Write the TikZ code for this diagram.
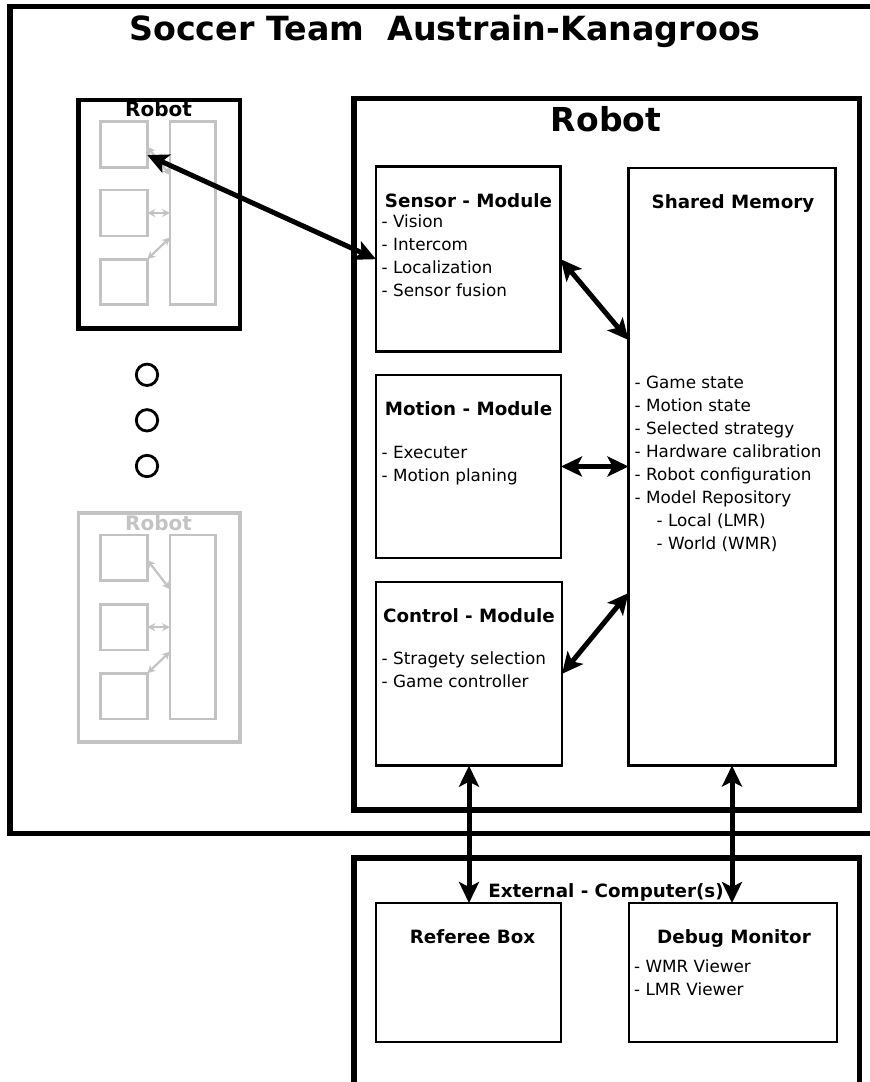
\documentclass[tikz,border=0pt]{standalone}
\usepackage{fontspec}
\setmainfont{DejaVu Sans}
\usetikzlibrary{arrows.meta,calc}
\definecolor{rgrey}{RGB}{195,195,195}
\begin{document}
\begin{tikzpicture}[x=1pt,y=-1pt,
 modbox/.style={draw,line width=2.7pt,inner sep=0pt,outer sep=0pt},
 frame/.style={draw,line width=5.3pt,inner sep=0pt,outer sep=0pt},
 head/.style={font=\fontsize{18.3}{22}\selectfont\bfseries,inner sep=0pt,anchor=base},
 body/.style={font=\fontsize{16.8}{20}\selectfont,inner sep=0pt,anchor=base west},
 bigarrow/.style={line width=5pt,{Stealth[length=21pt,width=20pt,inset=5pt]}-{Stealth[length=21pt,width=20pt,inset=5pt]}},
 garrow/.style={line width=2.2pt,draw=rgrey,{Stealth[length=8pt,width=8pt]}-{Stealth[length=8pt,width=8pt]}},
 gbox/.style={draw=rgrey,line width=2.5pt,inner sep=0pt,outer sep=0pt},
 dot/.style={circle,draw,line width=2.8pt,minimum size=21.4pt,inner sep=0pt}
]
\useasboundingbox (0,0) rectangle (870,1082);
\clip (0,0) rectangle (870,1082);

% team frame
\draw[line width=5.3pt] (880,6.7) -- (10,6.7) -- (10,833.8) -- (880,833.8);
\node[font=\fontsize{33.3}{40}\selectfont\bfseries,inner sep=0pt,anchor=base] (title) at (445,40) {Soccer Team~ Austrain-Kanagroos};

% robot frame
\node[frame,minimum width=505.3pt,minimum height=711.3pt] (robot) at (606.65,454.35) {};
\node[font=\fontsize{33}{40}\selectfont\bfseries,inner sep=0pt,anchor=base] (robotlbl) at (606,131) {Robot};

% modules
\node[modbox,minimum width=184.7pt,minimum height=185pt] (sensor) at (468.35,259.2) {};
\node[modbox,minimum width=185pt,minimum height=183pt] (motion) at (468.5,466.5) {};
\node[modbox,minimum width=186pt,minimum height=183.7pt] (control) at (469,673.85) {};
\node[modbox,minimum width=207pt,minimum height=597.5pt] (sm) at (732,466.75) {};

\node[head] (sensorh) at (468.5,207.5) {Sensor - Module};
\node[body] (s1) at (381.5,227.3) {- Vision};
\node[body] (s2) at (381.5,250.5) {- Intercom};
\node[body] (s3) at (381.5,273.5) {- Localization};
\node[body] (s4) at (381.5,296.5) {- Sensor fusion};

\node[head] (motionh) at (468.5,415) {Motion - Module};
\node[body] (m1) at (381.5,458) {- Executer};
\node[body] (m2) at (381.5,481) {- Motion planing};

\node[head] (controlh) at (469,622) {Control - Module};
\node[body] (c1) at (381.5,664) {- Stragety selection};
\node[body] (c2) at (381.5,687) {- Game controller};

\node[head] (smh) at (733,208) {Shared Memory};
\node[body] (sm1) at (634.5,388) {- Game state};
\node[body] (sm2) at (634.5,411) {- Motion state};
\node[body] (sm3) at (634.5,434) {- Selected strategy};
\node[body] (sm4) at (634.5,457) {- Hardware calibration};
\node[body] (sm5) at (634.5,480) {- Robot configuration};
\node[body] (sm6) at (634.5,503) {- Model Repository};
\node[body] (sm7) at (656.5,526) {- Local (LMR)};
\node[body] (sm8) at (656.5,549) {- World (WMR)};

% external
\draw[line width=5.3pt] (354,1090) -- (354,858) -- (859.3,858) -- (859.3,1090);
\node[head] (exth) at (606,897.5) {External - Computer(s)};
\node[modbox,minimum width=185pt,minimum height=139pt] (referee) at (468.5,972.5) {};
\node[modbox,minimum width=208pt,minimum height=139pt] (debug) at (733,972.5) {};
\node[head] (refh) at (472.5,943.5) {Referee Box};
\node[head] (debugh) at (734,943.5) {Debug Monitor};
\node[body] (d1) at (634,972) {- WMR Viewer};
\node[body] (d2) at (634,995) {- LMR Viewer};

% small robot (top)
\node[draw,line width=4.2pt,inner sep=0pt,outer sep=0pt,minimum width=161.5pt,minimum height=228.5pt] (tr) at (159.25,214.25) {};
\node[font=\fontsize{20}{24}\selectfont\bfseries,inner sep=0pt,anchor=base] (trl) at (158.5,116.5) {Robot};
\node[gbox,minimum width=46.6pt,minimum height=45.6pt] (tr1) at (124,144.5) {};
\node[gbox,minimum width=46.6pt,minimum height=46pt] (tr2) at (124,213) {};
\node[gbox,minimum width=46.6pt,minimum height=45pt] (tr3) at (124,281.8) {};
\node[gbox,minimum width=45.7pt,minimum height=182.6pt] (trT) at (192.85,213) {};
\draw[garrow] ([yshift=-2.2pt]tr1.east) -- ([yshift=38pt]trT.west);
\draw[garrow] (tr2.east) -- (tr2.east -| trT.west);
\draw[garrow] (tr3.north east) -- ([yshift=-24.5pt]trT.west);

% dots
\node[dot] (dot1) at (147,374.8) {};
\node[dot] (dot2) at (147,420.3) {};
\node[dot] (dot3) at (147,466) {};

% grey robot
\node[draw=rgrey,line width=3.8pt,inner sep=0pt,outer sep=0pt,minimum width=161.5pt,minimum height=228.4pt] (gr) at (159.25,627.5) {};
\node[font=\fontsize{20}{24}\selectfont\bfseries,text=rgrey,inner sep=0pt,anchor=base] (grl) at (158.5,530.5) {Robot};
\node[gbox,minimum width=46.6pt,minimum height=45.7pt] (gr1) at (124,557.85) {};
\node[gbox,minimum width=46.6pt,minimum height=45.7pt] (gr2) at (124,627.15) {};
\node[gbox,minimum width=46.6pt,minimum height=45.7pt] (gr3) at (124,696.15) {};
\node[gbox,minimum width=45.7pt,minimum height=184pt] (grT) at (192.85,627) {};
\draw[garrow] ([yshift=-2pt]gr1.east) -- ([yshift=37.7pt]grT.west);
\draw[garrow] (gr2.east) -- (gr2.east -| grT.west);
\draw[garrow] (gr3.north east) -- ([yshift=-24.7pt]grT.west);

% black arrows
\draw[bigarrow] ([yshift=-10.5pt]tr1.east) -- (sensor.west);
\draw[bigarrow] (sensor.east) -- ([yshift=126.75pt]sm.west);
\draw[bigarrow] (motion.east) -- (motion.east -| sm.west);
\draw[bigarrow] (control.east) -- ([yshift=-126.25pt]sm.west);
\draw[bigarrow] (control.south) -- (control.south |- referee.north);
\draw[bigarrow] (sm.south) -- (sm.south |- debug.north);
\end{tikzpicture}
\end{document}
